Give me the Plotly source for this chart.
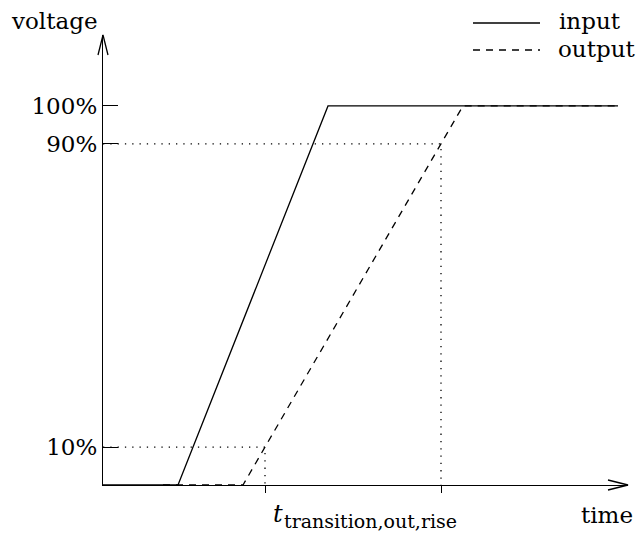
import numpy as np
import plotly.graph_objects as go

# Voltage waveforms (time in arbitrary units, voltage in % of full swing)
input_time = [0.0, 1.5, 4.5, 10.3]
input_volt = [0, 0, 100, 100]
output_time = [1.2, 2.8, 7.2, 10.3]
output_volt = [0, 0, 100, 100]

# Threshold levels and their tick labels
levels = [10, 90, 100]
level_labels = ["10%", "90%", "100%"]

# Axis extents
x_max = 10.5
y_max = 118.7

FONT = "DejaVu Serif, Liberation Serif, serif"
FS = 23
W, H = 639, 533
M = dict(l=103, r=11, t=35, b=48)
PW = W - M["l"] - M["r"]
PH = H - M["t"] - M["b"]

# Output crossing times at 10 % and 90 % (rising part of the output ramp)
rise = slice(1, 3)
t10 = float(np.interp(10, output_volt[rise], output_time[rise]))
t90 = float(np.interp(90, output_volt[rise], output_time[rise]))

fig = go.Figure()

dot = dict(color="black", width=1.3, dash="1.3px,6px")
# dotted guide lines
fig.add_trace(go.Scatter(x=[0, t90, t90], y=[90, 90, 0], mode="lines",
                         line=dot, hoverinfo="skip", showlegend=False))
fig.add_trace(go.Scatter(x=[0, t10, t10], y=[10, 10, 0], mode="lines",
                         line=dot, hoverinfo="skip", showlegend=False))

fig.add_trace(go.Scatter(x=input_time, y=input_volt, mode="lines", name="input",
                         line=dict(color="black", width=1.3), showlegend=False))
fig.add_trace(go.Scatter(x=output_time, y=output_volt, mode="lines", name="output",
                         line=dict(color="black", width=1.3, dash="7px,6px"),
                         showlegend=False))


def px(xp, yp):
    """pixel position -> paper coordinates"""
    return (xp - M["l"]) / PW, (H - M["b"] - yp) / PH


def path(points):
    s = ""
    for i, (a, b) in enumerate(points):
        xa, yb = px(a, b)
        s += ("M" if i == 0 else "L") + f"{xa:.5f},{yb:.5f} "
    return s


shapes = []
# open arrow heads on both axes
x0p, y0p = M["l"], H - M["b"]
top = M["t"]
right = W - M["r"]
shapes.append(dict(type="path", xref="paper", yref="paper",
                   path=path([(x0p - 5, top + 20), (x0p, top), (x0p + 5, top + 20)]),
                   line=dict(color="black", width=1.3)))
shapes.append(dict(type="path", xref="paper", yref="paper",
                   path=path([(right - 20, y0p - 5), (right, y0p), (right - 20, y0p + 5)]),
                   line=dict(color="black", width=1.3)))

# legend samples
lx0, lx1 = 473, 540
for yy, dash in [(23, "solid"), (50, "7px,6px")]:
    a0, b0 = px(lx0, yy)
    a1, _ = px(lx1, yy)
    shapes.append(dict(type="line", xref="paper", yref="paper", x0=a0, x1=a1, y0=b0, y1=b0,
                       line=dict(color="black", width=1.3, dash=dash)))


def label(text, xp, yp, size=FS, anchor="left"):
    a, b = px(xp, yp)
    return dict(text=text, x=a, y=b, xref="paper", yref="paper",
                xanchor=anchor, yanchor="middle", showarrow=False,
                font=dict(family=FONT, size=size, color="black"))


annotations = [
    label("input", 557, 21),
    label("output", 556, 49),
    label("voltage", 54, 21, anchor="center"),
    label("time", 607, 515, anchor="center"),
]
# t label with its subscript, placed just right of the 10 % crossing tick
_, b = px(0, 514)
annotations.append(dict(text="<i>t</i>", x=t10, y=b, xref="x", yref="paper",
                        xshift=6, xanchor="left", yanchor="middle", showarrow=False,
                        font=dict(family=FONT, size=FS + 1, color="black")))
_, b = px(0, 521)
annotations.append(dict(text="transition,out,rise", x=t10, y=b, xref="x", yref="paper",
                        xshift=17, xanchor="left", yanchor="middle", showarrow=False,
                        font=dict(family=FONT, size=19, color="black")))

fig.update_layout(
    width=W, height=H, margin=M,
    paper_bgcolor="white", plot_bgcolor="white",
    font=dict(family=FONT, color="black"),
    shapes=shapes, annotations=annotations,
    xaxis=dict(range=[0, x_max], showgrid=False, zeroline=False,
               showline=True, linecolor="black", linewidth=1.3,
               tickvals=[t10, t90], ticks="outside", ticklen=7, tickwidth=1.3,
               tickcolor="black", showticklabels=False),
    yaxis=dict(range=[0, y_max], showgrid=False, zeroline=False,
               showline=True, linecolor="black", linewidth=1.3,
               tickvals=levels, ticktext=level_labels, ticks="inside",
               ticklen=15, tickwidth=1.3, tickcolor="black",
               tickfont=dict(family=FONT, size=FS, color="black")),
    showlegend=False,
)

fig.write_html("out.html")
